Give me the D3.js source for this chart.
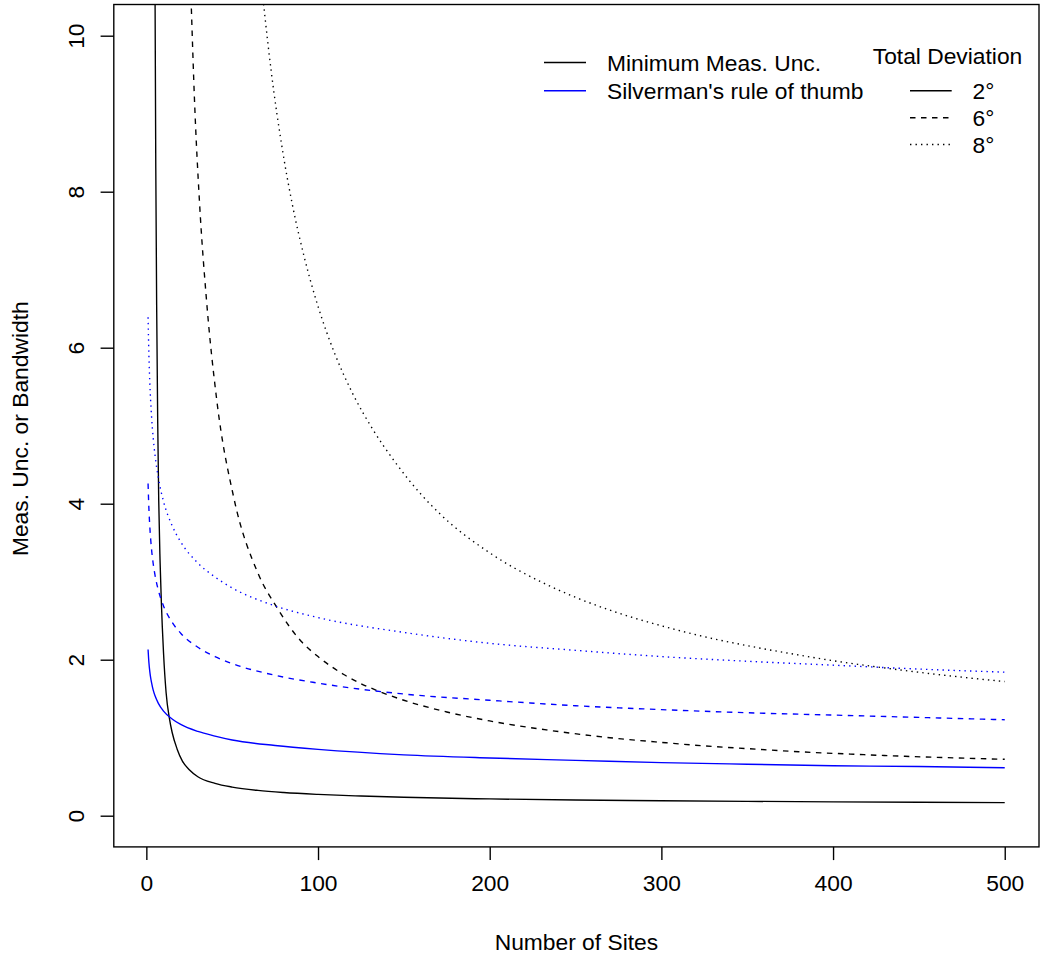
<!DOCTYPE html>
<html>
<head>
<meta charset="utf-8">
<script src="https://cdn.jsdelivr.net/npm/d3@7"></script>
<style>
  html, body { margin: 0; padding: 0; background: #fff; }
  svg { display: block; font-family: "Liberation Sans", Arial, Helvetica, sans-serif; }
</style>
</head>
<body>
<svg id="chart" width="1041" height="958"></svg>
<script>
// ---------- data ----------
const xTicks = [0, 100, 200, 300, 400, 500];
const yTicks = [0, 2, 4, 6, 8, 10];

// Silverman's rule of thumb (blue)
const nSilver = [1, 1.5, 2, 2.5, 3, 4, 5, 7, 10, 15, 20, 30, 40, 50, 75, 100, 150, 200, 250, 300, 350, 400, 450, 500];
const silver2 = [2.13, 1.96, 1.85, 1.77, 1.71, 1.61, 1.54, 1.44, 1.34, 1.24, 1.17, 1.08, 1.02, 0.97, 0.90, 0.85, 0.78, 0.74, 0.71, 0.68, 0.66, 0.64, 0.63, 0.615];
const silver6 = [4.26, 3.93, 3.71, 3.55, 3.42, 3.23, 3.09, 2.89, 2.69, 2.48, 2.34, 2.16, 2.04, 1.95, 1.80, 1.70, 1.56, 1.48, 1.41, 1.36, 1.32, 1.29, 1.26, 1.23];
const silver8 = [6.39, 5.89, 5.56, 5.32, 5.13, 4.84, 4.63, 4.33, 4.03, 3.72, 3.51, 3.24, 3.06, 2.92, 2.69, 2.54, 2.35, 2.21, 2.12, 2.04, 1.98, 1.93, 1.88, 1.84];

// Minimum measurement uncertainty (black)
const nMin2 = [4.9, 5.5, 6, 6.6, 7.2, 8, 8.7, 10, 11.5, 13.4, 15, 18, 21, 25, 30, 40, 50, 65, 80, 100, 125, 150, 200, 250, 300, 350, 400, 450, 500];
const min2  = [11.4, 8.3, 6.55, 5.07, 4.05, 3.26, 2.76, 2.09, 1.58, 1.25, 1.07, 0.85, 0.70, 0.59, 0.50, 0.415, 0.367, 0.324, 0.297, 0.273, 0.252, 0.236, 0.215, 0.201, 0.191, 0.184, 0.178, 0.173, 0.168];

const nMin6 = [24, 26, 28, 31, 35, 41, 51, 65, 76, 90, 100, 115, 136, 150, 175, 200, 233, 270, 300, 325, 350, 380, 410, 440, 470, 500];
const min6  = [11.9, 10.5, 9.2, 7.85, 6.62, 5.33, 4.07, 3.11, 2.67, 2.24, 2.04, 1.81, 1.59, 1.48, 1.33, 1.215, 1.10, 1.0, 0.94, 0.895, 0.86, 0.82, 0.79, 0.763, 0.742, 0.723];

const nMin8 = [66, 68.8, 72.7, 79.4, 85, 92, 100, 110, 120, 132, 145, 160, 171, 200, 233, 250, 272, 300, 322, 350, 380, 400, 425, 450, 475, 500];
const min8  = [10.9, 10.3, 9.55, 8.52, 7.84, 7.16, 6.53, 5.91, 5.42, 4.95, 4.53, 4.12, 3.87, 3.37, 2.965, 2.80, 2.62, 2.435, 2.31, 2.18, 2.06, 1.987, 1.909, 1.839, 1.776, 1.72];

const methodLabels = ["Minimum Meas. Unc.", "Silverman's rule of thumb"];
const methodColors = ["#000000", "#0000ff"];
const devLabels = ["2°", "6°", "8°"];
const legendTitle = "Total Deviation";
const xTitle = "Number of Sites";
const yTitle = "Meas. Unc. or Bandwidth";

// ---------- layout ----------
const LW = 1.375;
const dashes = [null, "5.5,5.5", "1.4,4.1"];
const plot = { left: 113.8, right: 1039, top: 4.5, bottom: 846.9 };
const FS = 22.8;
const FONT = "Liberation Sans, Arial, sans-serif";

const svg = d3.select("#chart");
const x = d3.scaleLinear().domain([1 - 0.04 * 499, 500 + 0.04 * 499]).range([plot.left, plot.right]);
const y = d3.scaleLinear().domain([-0.4, 10.4]).range([plot.bottom, plot.top]);

svg.append("defs").append("clipPath").attr("id", "clip")
  .append("rect")
  .attr("x", plot.left).attr("y", plot.top)
  .attr("width", plot.right - plot.left).attr("height", plot.bottom - plot.top);

const line = d3.line().x(d => x(d[0])).y(d => y(d[1])).curve(d3.curveMonotoneX);

const series = [
  { n: nMin2, v: min2, color: methodColors[0], dash: dashes[0] },
  { n: nMin6, v: min6, color: methodColors[0], dash: dashes[1] },
  { n: nMin8, v: min8, color: methodColors[0], dash: dashes[2] },
  { n: nSilver, v: silver2, color: methodColors[1], dash: dashes[0] },
  { n: nSilver, v: silver6, color: methodColors[1], dash: dashes[1] },
  { n: nSilver, v: silver8, color: methodColors[1], dash: dashes[2] }
];

const gLines = svg.append("g").attr("clip-path", "url(#clip)");
series.forEach(s => {
  gLines.append("path")
    .datum(s.n.map((n, i) => [n, s.v[i]]))
    .attr("d", line)
    .attr("fill", "none")
    .attr("stroke", s.color)
    .attr("stroke-width", LW)
    .attr("stroke-dasharray", s.dash);
});

// box
svg.append("rect")
  .attr("x", plot.left).attr("y", plot.top)
  .attr("width", plot.right - plot.left).attr("height", plot.bottom - plot.top)
  .attr("fill", "none").attr("stroke", "#000").attr("stroke-width", LW);

// x axis
const gx = svg.append("g")
  .attr("transform", `translate(0,${plot.bottom})`)
  .call(d3.axisBottom(x).tickValues(xTicks).tickSize(13.2).tickPadding(14.5).tickFormat(d3.format("d")));
gx.select(".domain").remove();
gx.selectAll("line").attr("stroke", "#000").attr("stroke-width", LW);
gx.selectAll("text").attr("font-size", FS).attr("fill", "#000").attr("font-family", FONT);

// y axis with rotated labels
const gy = svg.append("g")
  .attr("transform", `translate(${plot.left},0)`)
  .call(d3.axisLeft(y).tickValues(yTicks).tickSize(13.2).tickFormat(d3.format("d")));
gy.select(".domain").remove();
gy.selectAll("line").attr("stroke", "#000").attr("stroke-width", LW);
gy.selectAll("text")
  .attr("font-size", FS).attr("fill", "#000").attr("font-family", FONT)
  .attr("x", null).attr("dy", null)
  .attr("text-anchor", "middle")
  .attr("transform", "translate(-30,0) rotate(-90)");

// axis titles
svg.append("text")
  .attr("x", (plot.left + plot.right) / 2).attr("y", 950)
  .attr("text-anchor", "middle").attr("font-size", FS).text(xTitle);
svg.append("text")
  .attr("transform", `translate(28,${(plot.top + plot.bottom) / 2 + 3}) rotate(-90)`)
  .attr("text-anchor", "middle").attr("font-size", FS).text(yTitle);

// legend 1 (method)
const leg1Rows = [62.5, 90.7];
methodLabels.forEach((lab, i) => {
  svg.append("line")
    .attr("x1", 544).attr("x2", 586).attr("y1", leg1Rows[i]).attr("y2", leg1Rows[i])
    .attr("stroke", methodColors[i]).attr("stroke-width", LW);
  svg.append("text")
    .attr("x", 607).attr("y", leg1Rows[i] + 8.3)
    .attr("font-size", FS).text(lab);
});

// legend 2 (total deviation)
svg.append("text")
  .attr("x", 947.5).attr("y", 63.5)
  .attr("text-anchor", "middle").attr("font-size", FS).text(legendTitle);
const leg2Rows = [90.7, 117.7, 144.5];
devLabels.forEach((lab, i) => {
  svg.append("line")
    .attr("x1", 910).attr("x2", 951.7).attr("y1", leg2Rows[i]).attr("y2", leg2Rows[i])
    .attr("stroke", "#000").attr("stroke-width", LW)
    .attr("stroke-dasharray", dashes[i]);
  svg.append("text")
    .attr("x", 972.5).attr("y", leg2Rows[i] + 8.3)
    .attr("font-size", FS).text(lab);
});
</script>
</body>
</html>
